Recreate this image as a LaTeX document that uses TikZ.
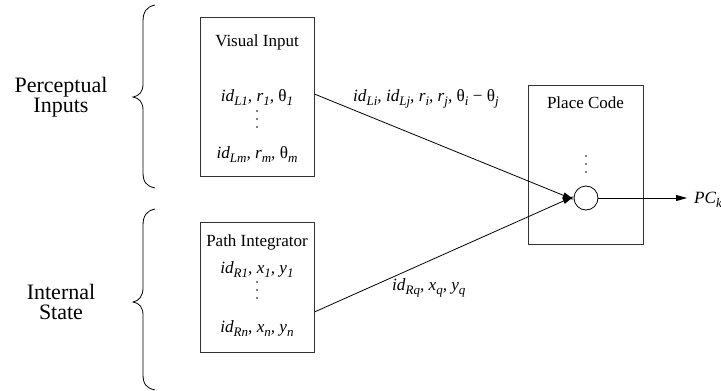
\documentclass[tikz,border=0pt]{standalone}
\usepackage{fontspec}
\setmainfont{Liberation Serif}
\usetikzlibrary{arrows.meta}
\newcommand\sbx[1]{\raisebox{-0.55ex}{\fontsize{13}{13}\selectfont #1}}
\tikzset{
  box/.style={draw=black!80, line width=0.8pt, inner sep=0pt},
  ttl/.style={font=\fontsize{17}{19}\selectfont, anchor=base, inner sep=0pt},
  mth/.style={font=\fontsize{17.2}{19}\selectfont\itshape, anchor=base, inner sep=0pt},
  side/.style={font=\fontsize{22}{20.5}\selectfont, align=center, inner sep=0pt},
  arr/.style={line width=0.8pt, -{Triangle[length=11pt,width=6pt]}},
  brc/.style={line width=0.8pt},
  dotf/.style={fill=black, draw=none}
}
\begin{document}
\begin{tikzpicture}[x=1pt,y=-1pt]
\useasboundingbox (0,0) rectangle (721,391);
% boxes
\node[box, minimum width=114pt, minimum height=159pt] (vis) at (257,96.5) {};
\node[box, minimum width=114pt, minimum height=130pt] (pint) at (257,287) {};
\node[box, minimum width=115pt, minimum height=159pt] (place) at (585.5,164.5) {};
\node[draw, line width=0.8pt, circle, minimum size=24pt, inner sep=0pt] (c) at (586,198) {};
% titles
\node[ttl] (tv) at (257,46) {Visual Input};
\node[ttl] (tp) at (257,246) {Path Integrator};
\node[ttl] (tc) at (585.5,108) {Place Code};
% box contents
\node[mth] (l1) at (257,101) {id\sbx{L1}, r\sbx{1}, \textup{θ}\sbx{1}};
\node[mth] (lm) at (257,158) {id\sbx{Lm}, r\sbx{m}, \textup{θ}\sbx{m}};
\node[mth] (r1) at (257,273) {id\sbx{R1}, x\sbx{1}, y\sbx{1}};
\node[mth] (rn) at (257,332) {id\sbx{Rn}, x\sbx{n}, y\sbx{n}};
% dots
\foreach \yy in {111,119,127} \fill[dotf] (257,\yy) circle (0.9);
\foreach \yy in {282,290,298} \fill[dotf] (257,\yy) circle (0.9);
\foreach \yy in {156,164,172} \fill[dotf] (586,\yy) circle (0.9);
% side labels
\node[side] (pi) at (61,97) {Perceptual\\Inputs};
\node[side] (is) at (61,302) {Internal\\State};
% braces
\draw[brc] (155,5) .. controls (146,7) and (143,12) .. (143,22) -- (143,84)
  .. controls (143,92) and (139,96) .. (133,97)
  .. controls (139,98) and (143,102) .. (143,110) -- (143,172)
  .. controls (143,182) and (146,186) .. (155,188);
\draw[brc] (155,209) .. controls (146,211) and (143,216) .. (143,226) -- (143,288)
  .. controls (143,296) and (139,301) .. (133,302)
  .. controls (139,303) and (143,307) .. (143,315) -- (143,374)
  .. controls (143,384) and (146,388) .. (155,390);
% connectors
\draw[arr] ([yshift=2.5pt]vis.east) -- ([yshift=-1.5pt]c.west);
\draw[arr] ([yshift=-25pt]pint.east) -- ([yshift=1.5pt]c.west);
\coordinate (po) at (687,198);
\draw[arr] (c.east) -- (po);
\node[mth, anchor=base west] (pc) at (694,203) {PC\sbx{k}};
% edge labels
\node[mth, anchor=base west] (la) at (353,101) {id\sbx{Li}, id\sbx{Lj}, r\sbx{i}, r\sbx{j}, \textup{θ}\sbx{i} \textup{−} \textup{θ}\sbx{j}};
\node[mth, anchor=base west] (lb) at (392,290) {id\sbx{Rq}, x\sbx{q}, y\sbx{q}};
\end{tikzpicture}
\end{document}
